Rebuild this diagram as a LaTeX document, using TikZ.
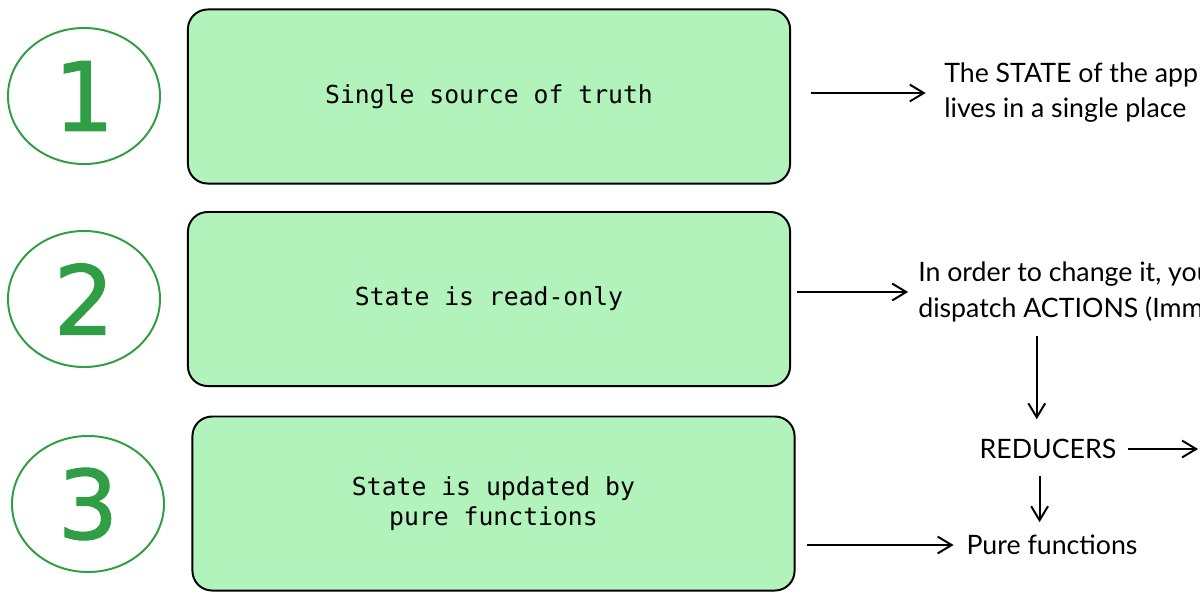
\documentclass[tikz,border=0pt]{standalone}
\usepackage{fontspec}
\setmainfont{Lato}
\setmonofont{DejaVu Sans Mono}
\newfontfamily\digitfont[FakeBold=1.2]{DejaVu Sans}
\usetikzlibrary{arrows.meta,positioning,shapes.geometric}
\definecolor{boxgreen}{HTML}{B2F2BB}
\definecolor{ringgreen}{HTML}{2F9E44}
\tikzset{
  rulebox/.style={draw=black, line width=1.4pt, fill=boxgreen, rounded corners=14pt,
    minimum width=15.05cm, minimum height=4.35cm, align=center,
    font=\ttfamily\fontsize{17.6}{21.3}\selectfont},
  ring/.style={ellipse, draw=ringgreen, line width=1.4pt, inner sep=0pt,
    minimum width=3.8cm, minimum height=3.4cm, text=ringgreen,
    font=\digitfont\fontsize{68}{68}\selectfont},
  note/.style={inner sep=0pt, align=left, font=\fontsize{19}{25}\selectfont},
  flow/.style={line width=1.4pt, -{Straight Barb[length=10pt,width=12pt,line width=1.4pt]}}
}
\begin{document}
\begin{tikzpicture}[x=0.025cm,y=-0.025cm]
    \clip (0,0) rectangle (1200,600);
    \useasboundingbox (0,0) rectangle (1200,600);

    \node[ring] (one) at (84,96) {1};
    \node[ring] (two) at (84,299) {2};
    \node[ring] (three) at (88,504) {3};

    \node[rulebox] (truth) at (489,96.5) {Single source of truth};
    \node[rulebox] (readonly) at (489,299) {State is read-only};
    \node[rulebox] (pure) at (493.5,503.5) {State is updated by\\pure functions};

    \node[note,anchor=west] (place) at (944,93) {The STATE of the appl\\lives in a single place};
    \node[note,anchor=west] (dispatch) at (918,292) {In order to change it, you\\dispatch ACTIONS (Imm};
    \node[note] (reducers) at (1048,449) {REDUCERS};
    \node[note] (purefn) at (1052,545) {Pure functions};
    \coordinate (edge) at (1198,449);

    \draw[flow,shorten <=14pt,shorten >=13pt] (truth.east |- place.west) -- (place.west);
    \draw[flow,shorten <=4pt,shorten >=7pt] (readonly.east |- dispatch.west) -- (dispatch.west);
    \draw[flow,shorten <=8pt,shorten >=9pt] (pure.east |- purefn.west) -- (purefn.west);
    \draw[flow,shorten <=10pt,shorten >=14pt] ([xshift=-8]reducers.north |- dispatch.south) -- ([xshift=-8]reducers.north);
    \draw[flow,shorten <=12pt,shorten >=9pt] ([xshift=-6]reducers.south) -- ([xshift=-6]reducers.south |- purefn.north);
    \draw[flow,shorten <=8pt] (reducers.east) -- (edge);
\end{tikzpicture}
\end{document}
